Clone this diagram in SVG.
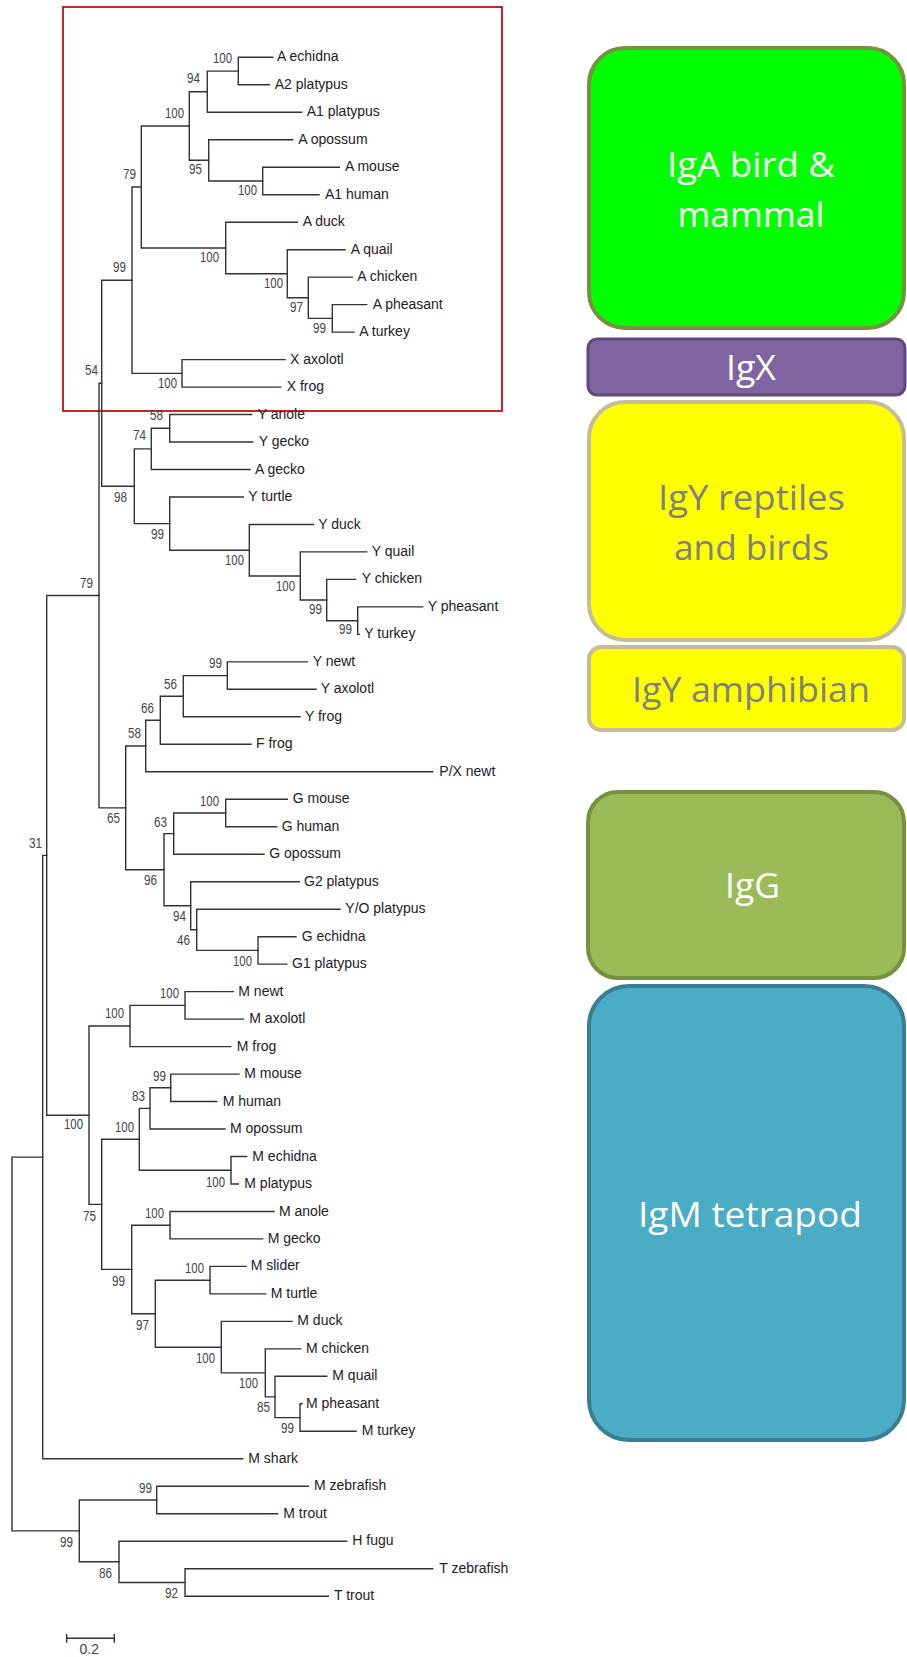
<svg xmlns="http://www.w3.org/2000/svg" width="907" height="1657" viewBox="0 0 907 1657">
<style>
.br{fill:none;stroke:#333;stroke-width:1.4;stroke-linecap:square}
.lf{font-family:"Liberation Sans",Arial,sans-serif;font-size:14px;fill:#222}
.bs{font-family:"Liberation Sans",Arial,sans-serif;font-size:14px;fill:#444;text-anchor:end}
.bx text{font-family:"Open Sans","Noto Sans",sans-serif;font-size:35px;text-anchor:middle}
.w{fill:#fff}
.g{fill:#808080}
</style>
<rect width="907" height="1657" fill="#fff"/>
<rect id="highlight" x="63" y="7" width="439" height="404" fill="none" stroke="#c00000" stroke-width="1.7"/>

<g id="connectors">
<path class="br" d="M238.3 57.3V84.8M238.3 57.3H272.7M238.3 84.8H269.3"/>
<path class="br" d="M207.3 71.1V112.3M207.3 71.1H238.3M207.3 112.3H301.7"/>
<path class="br" d="M262.7 167.2V194.7M262.7 167.2H339.3M262.7 194.7H319"/>
<path class="br" d="M208.7 139.7V181M208.7 139.7H292.7M208.7 181H262.7"/>
<path class="br" d="M189.3 91.7V160.3M189.3 91.7H207.3M189.3 160.3H208.7"/>
<path class="br" d="M332.3 304.6V332.1M332.3 304.6H366.7M332.3 332.1H354"/>
<path class="br" d="M308.3 277.1V318.4M308.3 277.1H352.3M308.3 318.4H332.3"/>
<path class="br" d="M287.3 249.7V297.7M287.3 249.7H345M287.3 297.7H308.3"/>
<path class="br" d="M225.7 222.2V273.7M225.7 222.2H297.3M225.7 273.7H287.3"/>
<path class="br" d="M141.3 126V248M141.3 126H189.3M141.3 248H225.7"/>
<path class="br" d="M182 359.6V387.1M182 359.6H285M182 387.1H280.7"/>
<path class="br" d="M132 187V373.4M132 187H141.3M132 373.4H182"/>
<path class="br" d="M169.7 414.5V442M169.7 414.5H251.7M169.7 442H252.7"/>
<path class="br" d="M151.3 428.3V469.5M151.3 428.3H169.7M151.3 469.5H250"/>
<path class="br" d="M357.7 606.9V634.4M357.7 606.9H422.7M357.7 634.4H359.3"/>
<path class="br" d="M326.7 579.4V620.7M326.7 579.4H355.7M326.7 620.7H357.7"/>
<path class="br" d="M300.3 551.9V600M300.3 551.9H366.7M300.3 600H326.7"/>
<path class="br" d="M249.3 524.5V576M249.3 524.5H313.3M249.3 576H300.3"/>
<path class="br" d="M169.7 497V550.2M169.7 497H243.3M169.7 550.2H249.3"/>
<path class="br" d="M134.3 448.9V523.6M134.3 448.9H151.3M134.3 523.6H169.7"/>
<path class="br" d="M101.7 280.2V486.3M101.7 280.2H132M101.7 486.3H134.3"/>
<path class="br" d="M227.3 661.9V689.3M227.3 661.9H307.3M227.3 689.3H316"/>
<path class="br" d="M183.3 675.6V716.8M183.3 675.6H227.3M183.3 716.8H300"/>
<path class="br" d="M160.3 696.2V744.3M160.3 696.2H183.3M160.3 744.3H251"/>
<path class="br" d="M145.7 720.3V771.8M145.7 720.3H160.3M145.7 771.8H432.7"/>
<path class="br" d="M225.7 799.3V826.7M225.7 799.3H287.3M225.7 826.7H276.7"/>
<path class="br" d="M173.7 813V854.2M173.7 813H225.7M173.7 854.2H264"/>
<path class="br" d="M258 936.7V964.1M258 936.7H296M258 964.1H286.7"/>
<path class="br" d="M196.7 909.2V950.4M196.7 909.2H340M196.7 950.4H258"/>
<path class="br" d="M190.7 881.7V929.8M190.7 881.7H299.3M190.7 929.8H196.7"/>
<path class="br" d="M164 833.6V905.8M164 833.6H173.7M164 905.8H190.7"/>
<path class="br" d="M125.7 746V869.7M125.7 746H145.7M125.7 869.7H164"/>
<path class="br" d="M99 383.2V807.9M99 383.2H101.7M99 807.9H125.7"/>
<path class="br" d="M185 991.6V1019.1M185 991.6H233.3M185 1019.1H243.3"/>
<path class="br" d="M130 1005.4V1046.6M130 1005.4H185M130 1046.6H230.7"/>
<path class="br" d="M170.7 1074.1V1101.5M170.7 1074.1H239M170.7 1101.5H216.7"/>
<path class="br" d="M150 1087.8V1129M150 1087.8H170.7M150 1129H225"/>
<path class="br" d="M231 1156.5V1184M231 1156.5H246.7M231 1184H238.3"/>
<path class="br" d="M139.3 1108.4V1170.3M139.3 1108.4H150M139.3 1170.3H231"/>
<path class="br" d="M170 1211.5V1238.9M170 1211.5H274M170 1238.9H262.7"/>
<path class="br" d="M210 1266.4V1293.9M210 1266.4H246M210 1293.9H265.7"/>
<path class="br" d="M300 1403.8V1431.3M300 1403.8H302M300 1431.3H356"/>
<path class="br" d="M275 1376.3V1417.6M275 1376.3H326.7M275 1417.6H300"/>
<path class="br" d="M265.3 1348.9V1396.9M265.3 1348.9H300.7M265.3 1396.9H275"/>
<path class="br" d="M221.3 1321.4V1372.9M221.3 1321.4H292M221.3 1372.9H265.3"/>
<path class="br" d="M155.3 1280.2V1347.2M155.3 1280.2H210M155.3 1347.2H221.3"/>
<path class="br" d="M131.7 1225.2V1313.7M131.7 1225.2H170M131.7 1313.7H155.3"/>
<path class="br" d="M101.7 1139.3V1269.4M101.7 1139.3H139.3M101.7 1269.4H131.7"/>
<path class="br" d="M89 1026V1204.4M89 1026H130M89 1204.4H101.7"/>
<path class="br" d="M46.7 595.5V1115.2M46.7 595.5H99M46.7 1115.2H89"/>
<path class="br" d="M42.7 855.4V1458.8M42.7 855.4H46.7M42.7 1458.8H242.7"/>
<path class="br" d="M156.7 1486.3V1513.7M156.7 1486.3H308.3M156.7 1513.7H277.7"/>
<path class="br" d="M185 1568.7V1596.2M185 1568.7H432.7M185 1596.2H328.3"/>
<path class="br" d="M119 1541.2V1582.5M119 1541.2H346.7M119 1582.5H185"/>
<path class="br" d="M79.3 1500V1561.8M79.3 1500H156.7M79.3 1561.8H119"/>
<path class="br" d="M12 1157.1V1530.9M12 1157.1H42.7M12 1530.9H79.3"/>
</g>

<g id="leaves">
<g id="leaf-0"><text class="lf" x="277" y="61.3">A echidna</text></g>
<g id="leaf-1"><text class="lf" x="274.7" y="88.8">A2 platypus</text></g>
<g id="leaf-2"><text class="lf" x="306.7" y="116.3">A1 platypus</text></g>
<g id="leaf-3"><text class="lf" x="298.3" y="143.7">A opossum</text></g>
<g id="leaf-4"><text class="lf" x="345" y="171.2">A mouse</text></g>
<g id="leaf-5"><text class="lf" x="325" y="198.7">A1 human</text></g>
<g id="leaf-6"><text class="lf" x="302.7" y="226.2">A duck</text></g>
<g id="leaf-7"><text class="lf" x="350.7" y="253.7">A quail</text></g>
<g id="leaf-8"><text class="lf" x="357.3" y="281.1">A chicken</text></g>
<g id="leaf-9"><text class="lf" x="372.7" y="308.6">A pheasant</text></g>
<g id="leaf-10"><text class="lf" x="359.3" y="336.1">A turkey</text></g>
<g id="leaf-11"><text class="lf" x="290" y="363.6">X axolotl</text></g>
<g id="leaf-12"><text class="lf" x="286.7" y="391.1">X frog</text></g>
<g id="leaf-13"><text class="lf" x="257.7" y="418.5">Y anole</text></g>
<g id="leaf-14"><text class="lf" x="258.7" y="446">Y gecko</text></g>
<g id="leaf-15"><text class="lf" x="255" y="473.5">A gecko</text></g>
<g id="leaf-16"><text class="lf" x="248.3" y="501">Y turtle</text></g>
<g id="leaf-17"><text class="lf" x="318.3" y="528.5">Y duck</text></g>
<g id="leaf-18"><text class="lf" x="371.7" y="555.9">Y quail</text></g>
<g id="leaf-19"><text class="lf" x="361.7" y="583.4">Y chicken</text></g>
<g id="leaf-20"><text class="lf" x="427.7" y="610.9">Y pheasant</text></g>
<g id="leaf-21"><text class="lf" x="364.3" y="638.4">Y turkey</text></g>
<g id="leaf-22"><text class="lf" x="312.7" y="665.9">Y newt</text></g>
<g id="leaf-23"><text class="lf" x="320.7" y="693.3">Y axolotl</text></g>
<g id="leaf-24"><text class="lf" x="305" y="720.8">Y frog</text></g>
<g id="leaf-25"><text class="lf" x="256" y="748.3">F frog</text></g>
<g id="leaf-26"><text class="lf" x="439.3" y="775.8">P/X newt</text></g>
<g id="leaf-27"><text class="lf" x="292.7" y="803.3">G mouse</text></g>
<g id="leaf-28"><text class="lf" x="281.7" y="830.7">G human</text></g>
<g id="leaf-29"><text class="lf" x="269.3" y="858.2">G opossum</text></g>
<g id="leaf-30"><text class="lf" x="304" y="885.7">G2 platypus</text></g>
<g id="leaf-31"><text class="lf" x="345.3" y="913.2">Y/O platypus</text></g>
<g id="leaf-32"><text class="lf" x="301.7" y="940.7">G echidna</text></g>
<g id="leaf-33"><text class="lf" x="292" y="968.1">G1 platypus</text></g>
<g id="leaf-34"><text class="lf" x="238.3" y="995.6">M newt</text></g>
<g id="leaf-35"><text class="lf" x="249.3" y="1023.1">M axolotl</text></g>
<g id="leaf-36"><text class="lf" x="236.7" y="1050.6">M frog</text></g>
<g id="leaf-37"><text class="lf" x="244.3" y="1078.1">M mouse</text></g>
<g id="leaf-38"><text class="lf" x="222.7" y="1105.5">M human</text></g>
<g id="leaf-39"><text class="lf" x="230" y="1133">M opossum</text></g>
<g id="leaf-40"><text class="lf" x="252.3" y="1160.5">M echidna</text></g>
<g id="leaf-41"><text class="lf" x="244.3" y="1188">M platypus</text></g>
<g id="leaf-42"><text class="lf" x="279" y="1215.5">M anole</text></g>
<g id="leaf-43"><text class="lf" x="267.7" y="1242.9">M gecko</text></g>
<g id="leaf-44"><text class="lf" x="250.7" y="1270.4">M slider</text></g>
<g id="leaf-45"><text class="lf" x="270.7" y="1297.9">M turtle</text></g>
<g id="leaf-46"><text class="lf" x="297.3" y="1325.4">M duck</text></g>
<g id="leaf-47"><text class="lf" x="306" y="1352.9">M chicken</text></g>
<g id="leaf-48"><text class="lf" x="332.3" y="1380.3">M quail</text></g>
<g id="leaf-49"><text class="lf" x="306" y="1407.8">M pheasant</text></g>
<g id="leaf-50"><text class="lf" x="361.7" y="1435.3">M turkey</text></g>
<g id="leaf-51"><text class="lf" x="248.3" y="1462.8">M shark</text></g>
<g id="leaf-52"><text class="lf" x="314" y="1490.3">M zebrafish</text></g>
<g id="leaf-53"><text class="lf" x="283.3" y="1517.7">M trout</text></g>
<g id="leaf-54"><text class="lf" x="352.3" y="1545.2">H fugu</text></g>
<g id="leaf-55"><text class="lf" x="439.3" y="1572.7">T zebrafish</text></g>
<g id="leaf-56"><text class="lf" x="334" y="1600.2">T trout</text></g>
</g>

<g id="bootstrap">
<g id="bs-1"><text class="bs" x="232" y="63" textLength="19" lengthAdjust="spacingAndGlyphs">100</text></g>
<g id="bs-2"><text class="bs" x="200" y="83" textLength="13" lengthAdjust="spacingAndGlyphs">94</text></g>
<g id="bs-3"><text class="bs" x="184" y="118" textLength="19" lengthAdjust="spacingAndGlyphs">100</text></g>
<g id="bs-4"><text class="bs" x="202" y="174" textLength="13" lengthAdjust="spacingAndGlyphs">95</text></g>
<g id="bs-5"><text class="bs" x="257" y="195" textLength="19" lengthAdjust="spacingAndGlyphs">100</text></g>
<g id="bs-6"><text class="bs" x="136" y="179" textLength="13" lengthAdjust="spacingAndGlyphs">79</text></g>
<g id="bs-7"><text class="bs" x="219" y="261.7" textLength="19" lengthAdjust="spacingAndGlyphs">100</text></g>
<g id="bs-8"><text class="bs" x="283" y="287.7" textLength="19" lengthAdjust="spacingAndGlyphs">100</text></g>
<g id="bs-9"><text class="bs" x="303" y="312.3" textLength="13" lengthAdjust="spacingAndGlyphs">97</text></g>
<g id="bs-10"><text class="bs" x="326" y="332.7" textLength="13" lengthAdjust="spacingAndGlyphs">99</text></g>
<g id="bs-11"><text class="bs" x="126" y="271.7" textLength="13" lengthAdjust="spacingAndGlyphs">99</text></g>
<g id="bs-12"><text class="bs" x="177" y="388.3" textLength="19" lengthAdjust="spacingAndGlyphs">100</text></g>
<g id="bs-13"><text class="bs" x="98" y="375" textLength="13" lengthAdjust="spacingAndGlyphs">54</text></g>
<g id="bs-14"><text class="bs" x="127" y="501.7" textLength="13" lengthAdjust="spacingAndGlyphs">98</text></g>
<g id="bs-15"><text class="bs" x="146" y="440" textLength="13" lengthAdjust="spacingAndGlyphs">74</text></g>
<g id="bs-16"><text class="bs" x="163" y="420" textLength="13" lengthAdjust="spacingAndGlyphs">58</text></g>
<g id="bs-17"><text class="bs" x="164" y="539" textLength="13" lengthAdjust="spacingAndGlyphs">99</text></g>
<g id="bs-18"><text class="bs" x="244" y="565" textLength="19" lengthAdjust="spacingAndGlyphs">100</text></g>
<g id="bs-19"><text class="bs" x="295" y="591" textLength="19" lengthAdjust="spacingAndGlyphs">100</text></g>
<g id="bs-20"><text class="bs" x="322" y="614.3" textLength="13" lengthAdjust="spacingAndGlyphs">99</text></g>
<g id="bs-21"><text class="bs" x="352" y="634.3" textLength="13" lengthAdjust="spacingAndGlyphs">99</text></g>
<g id="bs-22"><text class="bs" x="93" y="587.7" textLength="13" lengthAdjust="spacingAndGlyphs">79</text></g>
<g id="bs-23"><text class="bs" x="42" y="848.3" textLength="13" lengthAdjust="spacingAndGlyphs">31</text></g>
<g id="bs-24"><text class="bs" x="120" y="823.3" textLength="13" lengthAdjust="spacingAndGlyphs">65</text></g>
<g id="bs-25"><text class="bs" x="141" y="737.7" textLength="13" lengthAdjust="spacingAndGlyphs">58</text></g>
<g id="bs-26"><text class="bs" x="154" y="713.3" textLength="13" lengthAdjust="spacingAndGlyphs">66</text></g>
<g id="bs-27"><text class="bs" x="177" y="689" textLength="13" lengthAdjust="spacingAndGlyphs">56</text></g>
<g id="bs-28"><text class="bs" x="222" y="668.3" textLength="13" lengthAdjust="spacingAndGlyphs">99</text></g>
<g id="bs-29"><text class="bs" x="219" y="805.7" textLength="19" lengthAdjust="spacingAndGlyphs">100</text></g>
<g id="bs-30"><text class="bs" x="167" y="826.7" textLength="13" lengthAdjust="spacingAndGlyphs">63</text></g>
<g id="bs-31"><text class="bs" x="157" y="885" textLength="13" lengthAdjust="spacingAndGlyphs">96</text></g>
<g id="bs-32"><text class="bs" x="186" y="921" textLength="13" lengthAdjust="spacingAndGlyphs">94</text></g>
<g id="bs-33"><text class="bs" x="190" y="945" textLength="13" lengthAdjust="spacingAndGlyphs">46</text></g>
<g id="bs-34"><text class="bs" x="252" y="965.7" textLength="19" lengthAdjust="spacingAndGlyphs">100</text></g>
<g id="bs-35"><text class="bs" x="83" y="1129" textLength="19" lengthAdjust="spacingAndGlyphs">100</text></g>
<g id="bs-36"><text class="bs" x="124" y="1017.7" textLength="19" lengthAdjust="spacingAndGlyphs">100</text></g>
<g id="bs-37"><text class="bs" x="179" y="997.7" textLength="19" lengthAdjust="spacingAndGlyphs">100</text></g>
<g id="bs-38"><text class="bs" x="166" y="1081" textLength="13" lengthAdjust="spacingAndGlyphs">99</text></g>
<g id="bs-39"><text class="bs" x="145" y="1101" textLength="13" lengthAdjust="spacingAndGlyphs">83</text></g>
<g id="bs-40"><text class="bs" x="134" y="1132" textLength="19" lengthAdjust="spacingAndGlyphs">100</text></g>
<g id="bs-41"><text class="bs" x="96" y="1220.7" textLength="13" lengthAdjust="spacingAndGlyphs">75</text></g>
<g id="bs-42"><text class="bs" x="225" y="1186.7" textLength="19" lengthAdjust="spacingAndGlyphs">100</text></g>
<g id="bs-43"><text class="bs" x="125" y="1285.7" textLength="13" lengthAdjust="spacingAndGlyphs">99</text></g>
<g id="bs-44"><text class="bs" x="164" y="1218.3" textLength="19" lengthAdjust="spacingAndGlyphs">100</text></g>
<g id="bs-45"><text class="bs" x="149" y="1330" textLength="13" lengthAdjust="spacingAndGlyphs">97</text></g>
<g id="bs-46"><text class="bs" x="204" y="1273.3" textLength="19" lengthAdjust="spacingAndGlyphs">100</text></g>
<g id="bs-47"><text class="bs" x="215" y="1363.3" textLength="19" lengthAdjust="spacingAndGlyphs">100</text></g>
<g id="bs-48"><text class="bs" x="258" y="1388.3" textLength="19" lengthAdjust="spacingAndGlyphs">100</text></g>
<g id="bs-49"><text class="bs" x="270" y="1412.3" textLength="13" lengthAdjust="spacingAndGlyphs">85</text></g>
<g id="bs-50"><text class="bs" x="294" y="1433.3" textLength="13" lengthAdjust="spacingAndGlyphs">99</text></g>
<g id="bs-51"><text class="bs" x="73" y="1546.7" textLength="13" lengthAdjust="spacingAndGlyphs">99</text></g>
<g id="bs-52"><text class="bs" x="152" y="1492.7" textLength="13" lengthAdjust="spacingAndGlyphs">99</text></g>
<g id="bs-53"><text class="bs" x="112" y="1577.7" textLength="13" lengthAdjust="spacingAndGlyphs">86</text></g>
<g id="bs-54"><text class="bs" x="178" y="1598.3" textLength="13" lengthAdjust="spacingAndGlyphs">92</text></g>
</g>

<g id="scale-bar">
<path class="br" d="M66.7 1638.3H114.3M66.7 1634.7V1642M114.3 1634.7V1642"/>
<text class="bs" x="99" y="1654" style="text-anchor:end">0.2</text>
</g>

<g id="box-iga" class="bx">
<rect x="589" y="48" width="315" height="280" rx="36" fill="#00ff00" stroke="#77923f" stroke-width="4"/>
<text class="w" x="751" y="176.7" textLength="168" lengthAdjust="spacingAndGlyphs">IgA bird &amp;</text>
<text class="w" x="751" y="226.7" textLength="147" lengthAdjust="spacingAndGlyphs">mammal</text>
</g>
<g id="box-igx" class="bx">
<rect x="588" y="339" width="317" height="56" rx="9" fill="#8064a2" stroke="#5d4a7d" stroke-width="3"/>
<text class="w" x="751" y="380" textLength="50" lengthAdjust="spacingAndGlyphs">IgX</text>
</g>
<g id="box-igy-rb" class="bx">
<rect x="589" y="402" width="315" height="238" rx="36" fill="#ffff00" stroke="#c4bd97" stroke-width="4"/>
<text class="g" x="751.5" y="510" textLength="187" lengthAdjust="spacingAndGlyphs">IgY reptiles</text>
<text class="g" x="751.5" y="560" textLength="155" lengthAdjust="spacingAndGlyphs">and birds</text>
</g>
<g id="box-igy-amph" class="bx">
<rect x="589" y="647" width="315" height="83" rx="12" fill="#ffff00" stroke="#c4bd97" stroke-width="4"/>
<text class="g" x="751" y="701.7" textLength="238" lengthAdjust="spacingAndGlyphs">IgY amphibian</text>
</g>
<g id="box-igg" class="bx">
<rect x="588" y="792" width="316" height="186" rx="30" fill="#9bbb59" stroke="#77923f" stroke-width="4"/>
<text class="w" x="752.5" y="898.3" textLength="55" lengthAdjust="spacingAndGlyphs">IgG</text>
</g>
<g id="box-igm" class="bx">
<rect x="589" y="986" width="315" height="454" rx="40" fill="#4bacc6" stroke="#377f93" stroke-width="4"/>
<text class="w" x="750" y="1226.7" textLength="224" lengthAdjust="spacingAndGlyphs">IgM tetrapod</text>
</g>
</svg>
